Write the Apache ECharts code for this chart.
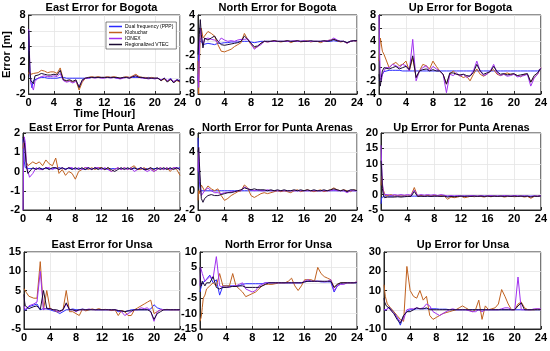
<!DOCTYPE html>
<html><head><meta charset="utf-8">
<script src="https://cdn.jsdelivr.net/npm/echarts@6/dist/echarts.min.js"></script>
<style>html,body{margin:0;padding:0;background:#fff}#c{width:550px;height:351px}</style>
</head><body><div id="c"></div>
<script>
const hours = [0,0.1,0.2,0.35,0.5,0.75,1,
 1.5,2,2.5,3,3.5,4,
 4.5,5,5.5,6,6.5,7,7.5,8,
 8.5,9,9.5,10,10.5,11,11.5,12,
 12.5,13,13.5,14,14.5,15,15.5,16,
 16.5,17,17.5,18,18.5,19,19.5,20,
 20.5,21,21.5,22,22.5,23,23.5,24];
const seriesNames = ['Dual frequency (PPP)','Klobuchar','IONEX','Regionalized VTEC'];
const xTicks = [0,4,8,12,16,20,24];

// East Error for Bogota
const eastBogotaPPP = [6,3,0.5,-0.5,-1.2,-0.3,-0.2,
 0,0.1,0.1,0,0,0,
 0,0.1,0.1,0,0,0,0,0,
 0,0,0,0.1,0.1,0.1,0.1,0.1,
 0.1,0.1,0.1,0,0,0.1,0.1,0.1,
 0.1,0.1,0.1,0.1,0,0.1,0,0,
 0,-0.3,0,-0.4,0,-0.5,-0.2,-0.3];
const eastBogotaKlob = [0.5,0.8,0.8,0.5,0.4,0.6,0.8,
 0.7,1.0,0.9,0.7,0.8,0.8,
 0.6,1.3,-0.2,-0.4,-0.3,-0.5,-0.3,-1.5,
 -0.5,0,0.1,0.2,0.1,0.2,0.1,0.1,
 0.2,0.1,0.2,0.1,0,0.1,0.2,0.1,
 0.3,0.5,0.2,0.1,0.1,0,0.1,0,
 0,-0.3,-0.1,-0.4,-0.2,-0.5,-0.3,-0.5];
const eastBogotaIonex = [6.2,4,1,-0.5,-1,-1.5,-0.4,
 0,0.2,0.3,0.2,0.2,0.3,
 0.2,0.6,-0.3,-0.5,-0.4,-0.6,-0.4,-1.0,
 -0.3,0,0,0.1,0,0.1,0,0,
 0.1,0,0.1,0,-0.1,0,0.1,0,
 0.2,0.3,0.1,0,0,-0.1,0,-0.1,
 0,-0.2,0,-0.3,-0.1,-0.4,-0.2,-0.4];
const eastBogotaReg = [6,3.5,0.8,-0.3,-0.5,-0.7,0.3,
 0.4,0.6,0.5,0.4,0.4,0.5,
 0.4,1.0,-0.2,-0.3,-0.2,-0.4,-0.2,-1.2,
 -0.2,0,0.1,0.1,0.1,0.1,0.1,0.1,
 0.1,0.1,0.1,0.1,0,0.1,0.1,0,
 0.2,0.3,0.1,0.1,0,0,0,0,
 0,-0.3,0,-0.5,-0.1,-0.6,-0.2,-0.4];

// North Error for Bogota
const northBogotaPPP = [-6,-2,0,0.5,0,-0.5,-0.3,
 -0.3,-0.4,-0.5,-0.3,-0.3,-0.2,
 -0.2,-0.1,-0.1,-0.1,0,0,0,-0.1,
 -0.2,-0.1,0,0,0,0,0,0,
 0,0,0,0,0,0,0,0,
 0,0,0,0,0,0,0,0,
 0.1,0,0,0,-0.2,0,0.1,0];
const northBogotaKlob = [-3,-8,-4,1.5,2,0.5,0.8,
 1.5,1.2,0.8,-0.5,-1.5,-1.6,
 -1.4,-1.2,-0.8,-0.5,-0.2,1.2,0.3,-0.5,
 -1.0,-0.8,-0.3,0,-0.1,0,0.1,0,
 -0.1,0,0.1,-0.2,0,0.1,-0.1,0,
 0.1,-0.1,0,0,-0.2,0,0.1,0.2,
 0.3,0.1,-0.1,0,-0.3,0,0.1,0];
const northBogotaIonex = [-5,-7,-2,2,1,-0.5,0.3,
 0.5,0.3,0.2,-0.2,0.5,0.2,
 0,0.1,0,0.2,0.3,0.3,0.4,-0.3,
 -1.2,-0.8,-0.5,0,-0.1,0,0,0,
 0,0,0,0,0.1,0,0,0.1,
 0,0,0,0,0,0,0.1,0.2,
 0.5,0.2,0,0,-0.3,0,0.1,0.1];
const northBogotaReg = [-2,0,1,3.3,1,-1,0.5,
 0.2,0.5,0.8,0,-0.5,-0.6,
 -0.5,-0.4,-0.3,-0.2,0,0.8,0.3,-0.3,
 -0.8,-0.7,-0.3,0,0,0,0.1,0,
 0,0,0.1,0,0,0.1,0,0,
 0,0.1,0,0,0,0.1,0,0.1,
 0.3,0.1,0,0,-0.2,0,0.1,0.1];

// Up Error for Bogota
const upBogotaPPP = [-2,-2,-1.8,-1.5,-1,-0.6,-0.4,
 -0.4,-0.4,-0.4,-0.4,-0.5,-0.5,
 -0.5,-0.5,-0.5,-0.5,-0.5,-0.5,-0.5,-0.5,
 -0.5,-0.5,-0.5,-0.5,-0.5,-0.5,-0.5,-0.5,
 -0.5,-0.5,-0.5,-0.5,-0.5,-0.5,-0.5,-0.5,
 -0.5,-0.5,-0.5,-0.5,-0.5,-0.5,-0.5,-0.5,
 -0.5,-0.5,-0.5,-0.5,-0.5,-0.5,-0.5,-0.2];
const upBogotaKlob = [1,3,4.5,4.2,2.5,2,1.8,
 0,0.5,0.8,0.3,0.5,1.0,
 -0.5,1.5,-1.5,-0.5,0.5,0.3,-0.2,1.0,
 0.2,-0.5,-1.0,-2.5,-1,-0.5,-1,-1.2,
 -1.5,-1.3,-2.0,-1,-0.2,-1,-1.3,-1,
 -0.5,-0.3,-1,-1.2,-1,-0.8,-1,-1,
 -1.2,-1.4,-1,-1,-2.2,-1.5,-1,0];
const upBogotaIonex = [8,2,-1.5,-2,-1,-0.5,0,
 0,0.5,0.3,0,0.5,0.3,
 -0.5,4.3,-2,-0.5,0,0.3,-0.5,0.2,
 -0.2,-0.5,-1,-3.8,-1,-1.2,-0.8,-1.3,
 -1,-1.5,-1.2,-0.5,1.0,-0.5,-1.2,-1.0,
 -0.5,0.5,-0.8,-1.2,-1,-1.3,-1.2,-1,
 -1.4,-1.3,-1.2,-1,-2.8,-1.6,-1,0];
const upBogotaReg = [-1,-2,-2.8,-1.5,-0.5,0,0,
 -0.2,0,0.2,-0.2,0,0.2,
 -0.3,1.8,-1.5,-0.5,-0.3,-0.2,-0.5,-0.3,
 -0.5,-0.5,-1,-2.5,-0.8,-0.8,-1,-1.1,
 -1,-1.2,-1.3,-0.7,0.5,-0.5,-1,-0.8,
 -0.6,0.2,-0.6,-1,-0.9,-1.1,-1,-0.9,
 -1.2,-1.1,-1,-0.9,-2.2,-1.2,-0.8,-0.1];

// East Error for Punta Arenas
const eastPuntaPPP = [1.7,1.2,0.5,0.2,0.2,0.15,0.15,
 0.15,0.15,0.15,0.15,0.15,0.15,
 0.15,0.15,0.2,0.15,0.15,0.15,0.15,0.15,
 0.15,0.15,0.1,0.15,0.15,0.15,0.15,0.15,
 0.15,0.1,0.15,0.15,0.15,0.15,0.15,0.15,
 0.15,0.15,0.15,0.15,0.15,0.15,0.15,0.15,
 0.15,0.15,0.15,0.15,0.15,0.15,0.15,0.2];
const eastPuntaKlob = [1.2,1.5,1.6,1.2,0.5,0.3,0.2,
 0.5,0.4,0.5,0.3,0.6,0.4,
 0.3,0.7,-0.1,0.1,-0.2,0,-0.1,-0.4,
 0,0.1,0.2,0.1,0.2,0.1,0.2,0.2,
 0.1,0.2,0,0.1,0.2,0.1,0.2,0.1,
 0.2,0.3,0.1,0.1,0.2,0.1,0.2,0,
 0.1,0.2,0.1,0.2,0,0.2,0.1,-0.2];
const eastPuntaIonex = [-2,0.5,1.8,1.5,0.5,0,-0.3,
 -0.1,0.2,0.1,0.1,0.2,0.2,
 0.1,0.2,0.1,0.2,0.1,0.2,0.2,0.1,
 0.2,0.1,0.2,0.2,0.1,0.2,0.2,0.1,
 0.2,0.1,0,0.1,0.2,0.1,0.2,0.1,
 0.2,0,0.1,0.2,0.1,0,0.1,0,
 0.1,0.2,0.1,0.2,0.1,0.2,0.2,0.1];
const eastPuntaReg = [1.8,1.7,1.5,1.0,0.3,-0.1,0,
 0.2,0.1,0.2,0.1,0.2,0.1,
 0.2,0.2,0.1,0.2,0.1,0.2,0.1,0.2,
 0.1,0.2,0.1,0.2,0.1,0.2,0.1,0.2,
 0.1,0.2,0.1,0,0.1,0.2,0.1,0.2,
 0.1,0.2,0.1,0.2,0.1,0.1,0.2,0.1,
 0.2,0.1,0.2,0.1,0.2,0.1,0.2,0.1];

// North Error for Punta Arenas
const northPuntaPPP = [5.5,3,1,0,0,0,0,
 0,0,0,0,0,0,
 0,0,0,0,0,0,0,0,
 0,0,0,0,0,0,0,0,
 0,0,0,0,0,0,0,0,
 0,0,0,0,0,0,0,0,
 0,0,0,0,0,0,0,0];
const northPuntaKlob = [-1,0,-0.3,0.2,0.6,0.8,0,
 0.5,0.2,0,0.2,-0.5,-1,
 -0.8,-0.5,-0.3,-0.1,0,0.6,0.3,-0.5,
 -0.7,-0.5,-0.3,-0.2,-0.3,-0.2,-0.1,0,
 -0.1,0,-0.1,-0.2,0,0.1,-0.1,0,
 0.1,0,-0.1,0,0.1,-0.1,0,0.1,
 0.3,0.1,0,0.1,0,-0.1,0.1,0];
const northPuntaIonex = [2,4.5,2,0.5,-0.5,-0.3,0,
 0.3,0,-0.2,-0.2,-0.3,-0.2,
 -0.2,-0.1,-0.1,0,0,0.4,0.2,0.1,
 0,0.1,0,0,0.1,0,0,0,
 0,0,0,0,0,0,0,0,
 0,0,0,0,0,0,0,0,
 0.1,0,0,0,-0.2,0,0,0];
const northPuntaReg = [4,4.5,3,1,-0.8,-1.2,-0.8,
 -0.5,-0.4,-0.5,-0.5,-0.4,-0.3,
 -0.2,-0.2,-0.1,0,0.1,0.3,0.2,0.1,
 0.2,0.1,0.1,0.1,0,0.1,0,0.1,
 0,0.1,0,0,0.1,0,0.1,0,
 0.1,0,0.1,0,0,0.1,0,0.1,
 0.2,0.1,0,0.1,-0.1,0.1,0.1,0];

// Up Error for Punta Arenas
const upPuntaPPP = [-3,-1,-0.5,-0.5,-0.5,-0.5,-0.5,
 -0.5,-0.5,-0.5,-0.5,-0.5,-0.5,
 -0.5,-0.5,-0.5,-0.5,-0.5,-0.5,-0.5,-0.5,
 -0.5,-0.5,-0.5,-0.5,-0.5,-0.5,-0.5,-0.5,
 -0.5,-0.5,-0.5,-0.5,-0.5,-0.5,-0.5,-0.5,
 -0.5,-0.5,-0.5,-0.5,-0.5,-0.5,-0.5,-0.5,
 -0.5,-0.5,-0.5,-0.5,-0.5,-0.5,-0.5,-0.5];
const upPuntaKlob = [3,6,3,1.5,0.5,-0.5,-0.3,
 0,-0.5,-0.3,-0.5,-0.3,-0.5,
 -0.3,2.3,-0.5,-0.3,-0.5,-0.3,-0.5,-0.3,
 -0.5,-0.3,-0.5,-1.5,-0.8,-1,-0.8,-0.5,
 -1,-0.8,-0.5,-0.7,-0.5,-0.6,-0.8,-0.5,
 -0.7,-0.5,-0.6,-0.5,-0.8,-0.6,-0.5,-0.7,
 -0.6,-0.5,-0.8,-0.6,-1.2,-0.6,-0.5,-0.4];
const upPuntaIonex = [16,10,4,1,0,-0.3,0,
 -0.3,0,-0.2,0,-0.2,0,
 -0.2,1.5,-0.3,0,-0.2,0,-0.2,0,
 -0.3,0,-0.2,-0.5,-0.3,-0.5,-0.3,-0.5,
 -0.4,-0.5,-0.3,-0.4,-0.5,-0.3,-0.5,-0.4,
 -0.3,-0.5,-0.4,-0.5,-0.3,-0.4,-0.5,-0.3,
 -0.4,-0.5,-0.4,-0.5,-0.6,-0.4,-0.5,-0.3];
const upPuntaReg = [11,8,2,0,-1,-1,-0.8,
 -0.8,-0.8,-0.7,-0.8,-0.7,-0.6,
 -0.6,1,-0.6,-0.5,-0.6,-0.5,-0.6,-0.5,
 -0.5,-0.6,-0.5,-0.8,-0.6,-0.7,-0.6,-0.5,
 -0.6,-0.5,-0.6,-0.5,-0.6,-0.5,-0.6,-0.5,
 -0.6,-0.5,-0.6,-0.5,-0.6,-0.5,-0.6,-0.5,
 -0.6,-0.5,-0.6,-0.5,-0.8,-0.5,-0.6,-0.4];

// East Error for Unsa
const eastUnsaPPP = [0,0,-0.3,0,0.5,0.8,1,
 1.2,1.5,0,0.3,0.2,0,
 -0.3,-0.5,-1,-0.5,0,0,0.2,0,
 0,0.2,0,0,0.1,0,0,0,
 0,0,-0.2,0,-0.5,-0.3,-0.5,-0.3,
 0,0,0,0,0,0,0.2,1.3,
 0.5,0.2,0,0,0,0,0,0];
const eastUnsaKlob = [5.5,5.5,5,4.5,4,3.5,3.5,
 3,3,12.5,0,5,0.3,
 0,-0.5,-0.5,0,5,-0.5,-0.5,-1,
 -1.5,0.2,-0.3,0,0.2,0,0.3,0,
 0.1,0,-0.2,0,-1.5,-0.2,-0.5,-1.5,
 -1.5,0,0.5,1,1.5,2,2.5,-1,
 -0.5,0,0,0.1,0,0,0,0];
const eastUnsaIonex = [1,0.5,0,0.3,0.5,1,1.3,
 1.5,2,10,0,0.5,0.2,
 0,-0.3,-0.5,0,1.5,0,0,-0.5,
 0,0,0,0.2,0,0,0,0,
 0,0,0,0,-0.2,-0.5,-1.5,-1,
 -0.5,0,0,0.5,0.3,0.5,-0.5,-3,
 -0.5,0,0,0,0,0,0,0];
const eastUnsaReg = [4,2,1,0.5,0.5,0.3,0.5,
 0.8,1,0,5,0.3,0.3,
 0,0,-0.3,0,1.8,0,0,-0.3,
 0,0,0,0,0,0,0,0,
 0,0,0,0,-0.2,-0.3,-0.5,-0.3,
 -0.3,0,0,0,0,0,-0.5,-2.5,
 -1,-0.5,0,0,0,0,0,0];

// North Error for Unsa
const northUnsaPPP = [-3,-2,-1.5,0,0,0.5,1,
 2.5,0,1,-4,-1,-1,
 -1,-1,-1,-1,-0.5,-0.3,-0.3,-0.3,
 -0.3,-0.3,-0.3,0,0,0,0,0,
 0,0,0,0,0,0,0,0.3,
 0.5,0.5,0.5,0.5,0.3,0.3,0.3,0.3,
 -3,-1,-0.3,0,0,0,0,0];
const northUnsaKlob = [-12.5,-12,-11,-8,-5,-4,-2,
 -1,0,-1,3,-1,-1,
 -1,3,-1,-2,-3,-4.5,-4,-3.5,
 -3,-2,-1,-0.5,-0.5,-0.5,-0.3,0,
 0,0,0.5,1.5,-1,-2.5,-1,1,
 1,1,0.5,5,3,2,1.5,1,
 -1.5,-0.5,0,0,0,0,0,0.3];
const northUnsaIonex = [-1,5,5,3,2,0.5,0,
 2,1.5,8.5,-1,-1.5,-1.5,
 -1.5,-1,-1,-0.5,0,-2,-2.5,-3,
 -2.5,-1,-0.5,0,0,0,0,0,
 0,0,0,0,0,0,0,0.5,
 1,0.5,0.5,0.5,0.5,0.3,0.5,1,
 -2.5,-1,-0.5,-0.5,0,0,0,0.3];
const northUnsaReg = [5,0,-1,0.5,0,-1,0,
 0,2,-1.5,-2,-1.5,-1.5,
 -1.3,-1.2,-1.2,-1,-1,-1.5,-1.5,-1.5,
 -1.5,-1.5,-1,-0.5,0,0,0,0,
 0,0,0,0,0,0,0,0.3,
 0.5,0.5,0.5,0.5,0.5,0.5,0.5,0.5,
 -1.5,-0.5,0,0,0,0,0,0];

// Up Error for Unsa
const upUnsaPPP = [0,0,-0.5,0,1,1.5,1,
 -1,-4,-8,-3,-1,0,
 0,0.5,0.5,0.5,0.5,0.5,0.5,0.5,
 0.3,0.3,0.3,0,0,0,0,0,
 0,0,0,0,0,0,0,0,
 0,0,0,0,0,0,0,0,
 0,0,0,0,0,0,0,0];
const upUnsaKlob = [13,10,7,5,3,2,1,
 -1,-3,-5,-6,22.5,10,
 7,6,10,5,7,-3,-5,-4,
 -3,-2,-1.5,-1,-0.5,0,1,2,
 1,0,-1,0,5,-5,2,0,
 0.5,1,3,10.5,7,3,0,0,
 3,4,1,0,0,0,0.5,0];
const upUnsaIonex = [0,-0.5,-0.5,0,0.5,1,0,
 -2,-4,-6,-5,0,0.5,
 0.5,1,0.5,1,3,2,-1,-2,
 -3,-2,-1,0,0.5,0,0,0,
 0,-0.5,-1,-1,0,-1,0,0,
 0,0,0,0.5,1,1,0,0,
 17,0,0,0,0,0.5,0.5,0.5];
const upUnsaReg = [6,4,3,2,1.5,1,0,
 -2,-5,-7,-3,-1,-1,
 0,1,0.5,0.5,1,0,0,0,
 0,0,0,0,0,0,0,0,
 0,0,0,0,0,0,0,0,
 0,0,0,0,0,0,0,0,
 2,3.5,0,0,0,0,0,0];

const colors = ['#2a2aff','#c0611f','#a030f0','#1a0a33'];

const panels = [
 {title:'East Error for Bogota', tt:2, g:{left:23,top:15,width:157,height:79}, y:[-2,8,2], d:[eastBogotaPPP,eastBogotaKlob,eastBogotaIonex,eastBogotaReg]},
 {title:'North Error for Bogota', tt:2, g:{left:198,top:15,width:159,height:79}, y:[-8,4,2], d:[northBogotaPPP,northBogotaKlob,northBogotaIonex,northBogotaReg]},
 {title:'Up Error for Bogota', tt:2, g:{left:379,top:15,width:163,height:79}, y:[-4,8,2], d:[upBogotaPPP,upBogotaKlob,upBogotaIonex,upBogotaReg]},
 {title:'East Error for Punta Arenas', tt:122, g:{left:23,top:133,width:157,height:77}, y:[-2,2,1], d:[eastPuntaPPP,eastPuntaKlob,eastPuntaIonex,eastPuntaReg]},
 {title:'North Error for Punta Arenas', tt:122, g:{left:198,top:133,width:159,height:77}, y:[-2,6,2], d:[northPuntaPPP,northPuntaKlob,northPuntaIonex,northPuntaReg]},
 {title:'Up Error for Punta Arenas', tt:122, g:{left:381,top:133,width:161,height:77}, y:[-5,20,5], d:[upPuntaPPP,upPuntaKlob,upPuntaIonex,upPuntaReg]},
 {title:'East Error for Unsa', tt:239, g:{left:24,top:252,width:156,height:77}, y:[-5,15,5], d:[eastUnsaPPP,eastUnsaKlob,eastUnsaIonex,eastUnsaReg]},
 {title:'North Error for Unsa', tt:239, g:{left:200,top:252,width:157,height:77}, y:[-15,10,5], d:[northUnsaPPP,northUnsaKlob,northUnsaIonex,northUnsaReg]},
 {title:'Up Error for Unsa', tt:239, g:{left:384,top:252,width:158,height:77}, y:[-10,30,10], d:[upUnsaPPP,upUnsaKlob,upUnsaIonex,upUnsaReg]}
];

const FONT = "'Liberation Sans', Arial, sans-serif";
const chart = echarts.init(document.getElementById('c'), null, {renderer:'canvas'});
const option = {animation:false, backgroundColor:'#fff', title:[], grid:[], xAxis:[], yAxis:[], series:[],
 legend:{left:106, top:22, orient:'vertical', itemGap:1, itemWidth:13, itemHeight:1.5, icon:'rect',
   padding:[2,3,2,3], backgroundColor:'#fff', borderColor:'#333', borderWidth:0.6,
   textStyle:{fontSize:5, fontFamily:FONT, color:'#000', padding:[0,0,0,-2]}, data:seriesNames}
};
panels.forEach((p,i)=>{
 option.grid.push({left:p.g.left, top:p.g.top, width:p.g.width, height:p.g.height, show:true, borderColor:'#262626', borderWidth:1, containLabel:false});
 option.title.push({text:p.title, left:p.g.left+p.g.width/2, top:p.tt, textAlign:'center', padding:0,
   textStyle:{fontSize:11, fontWeight:'bold', fontFamily:FONT, color:'#000'}});
 option.xAxis.push({type:'value', gridIndex:i, min:0, max:24, interval:4,
   axisLine:{show:true, onZero:false, lineStyle:{color:'#262626'}}, axisTick:{inside:true, length:3, lineStyle:{color:'#262626'}},
   axisLabel:{fontSize:11, fontWeight:'bold', fontFamily:FONT, color:'#000', margin:3},
   splitLine:{show:true, lineStyle:{color:'#e4e4e4', width:0.8}},
   name: i===0 ? 'Time [Hour]' : '', nameLocation:'middle', nameGap:14,
   nameTextStyle:{fontSize:11, fontWeight:'bold', fontFamily:FONT, color:'#000'}});
 option.yAxis.push({type:'value', gridIndex:i, min:p.y[0], max:p.y[1], interval:p.y[2],
   axisLine:{show:true, onZero:false, lineStyle:{color:'#262626'}}, axisTick:{show:true, inside:true, length:3, lineStyle:{color:'#262626'}},
   axisLabel:{fontSize:11, fontWeight:'bold', fontFamily:FONT, color:'#000', margin:3},
   splitLine:{show:true, lineStyle:{color:'#e4e4e4', width:0.8}},
   name: i===0 ? 'Error [m]' : '', nameLocation:'middle', nameGap:15,
   nameTextStyle:{fontSize:11, fontWeight:'bold', fontFamily:FONT, color:'#000'}});
 p.d.forEach((arr,k)=>{
   option.series.push({type:'line', name:seriesNames[k], xAxisIndex:i, yAxisIndex:i,
     data: hours.map((h,j)=>[h, arr[j]]), showSymbol:false, symbol:'none',
     lineStyle:{width:1, color:colors[k]}, itemStyle:{color:colors[k]}, z:2+k, clip:true});
 });
});
chart.setOption(option);
</script></body></html>
